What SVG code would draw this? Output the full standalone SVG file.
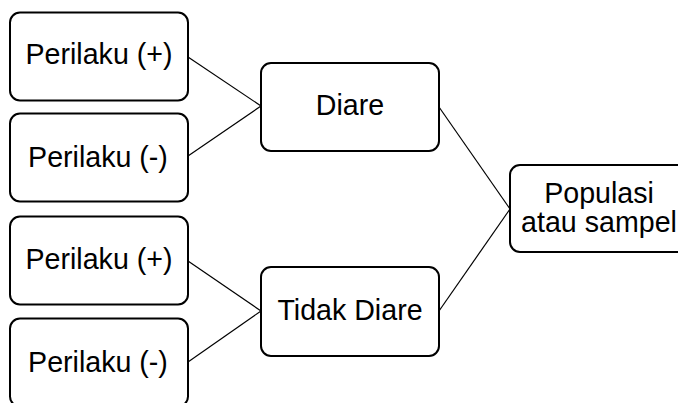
<svg xmlns="http://www.w3.org/2000/svg" width="678" height="403" viewBox="0 0 678 403">
  <style>
    .box { fill: #ffffff; stroke: #000000; stroke-width: 2; }
    .lbl { font-family: "Liberation Sans", Arial, sans-serif; font-size: 28.6px; fill: #000000; text-anchor: middle; }
    .link { stroke: #000000; stroke-width: 1.2; fill: none; }
  </style>
  <rect width="678" height="403" fill="#ffffff"/>
  <g id="connectors">
    <line class="link" x1="188" y1="57" x2="261" y2="106"/>
    <line class="link" x1="188" y1="156" x2="261" y2="106"/>
    <line class="link" x1="188" y1="261" x2="261" y2="311"/>
    <line class="link" x1="188" y1="362" x2="261" y2="311"/>
    <line class="link" x1="439" y1="107" x2="510" y2="209"/>
    <line class="link" x1="439" y1="311" x2="510" y2="209"/>
  </g>
  <g id="perilaku-plus-1">
    <rect class="box" x="10" y="12.5" width="178" height="88" rx="10"/>
    <text class="lbl" x="99" y="64">Perilaku (+)</text>
  </g>
  <g id="perilaku-minus-1">
    <rect class="box" x="10" y="113.5" width="178" height="88" rx="10"/>
    <text class="lbl" x="98" y="167">Perilaku (-)</text>
  </g>
  <g id="perilaku-plus-2">
    <rect class="box" x="10" y="216.5" width="178" height="88" rx="10"/>
    <text class="lbl" x="99" y="269">Perilaku (+)</text>
  </g>
  <g id="perilaku-minus-2">
    <rect class="box" x="10" y="318.5" width="178" height="88" rx="10"/>
    <text class="lbl" x="98" y="372">Perilaku (-)</text>
  </g>
  <g id="diare">
    <rect class="box" x="261" y="63" width="178" height="88" rx="10"/>
    <text class="lbl" x="350" y="115">Diare</text>
  </g>
  <g id="tidak-diare">
    <rect class="box" x="261" y="267" width="178" height="89" rx="10"/>
    <text class="lbl" x="350" y="320">Tidak Diare</text>
  </g>
  <g id="populasi">
    <rect class="box" x="510" y="165" width="178" height="87" rx="10"/>
    <text class="lbl" x="599" y="203">Populasi</text>
    <text class="lbl" x="599" y="232">atau sampel</text>
  </g>
</svg>
